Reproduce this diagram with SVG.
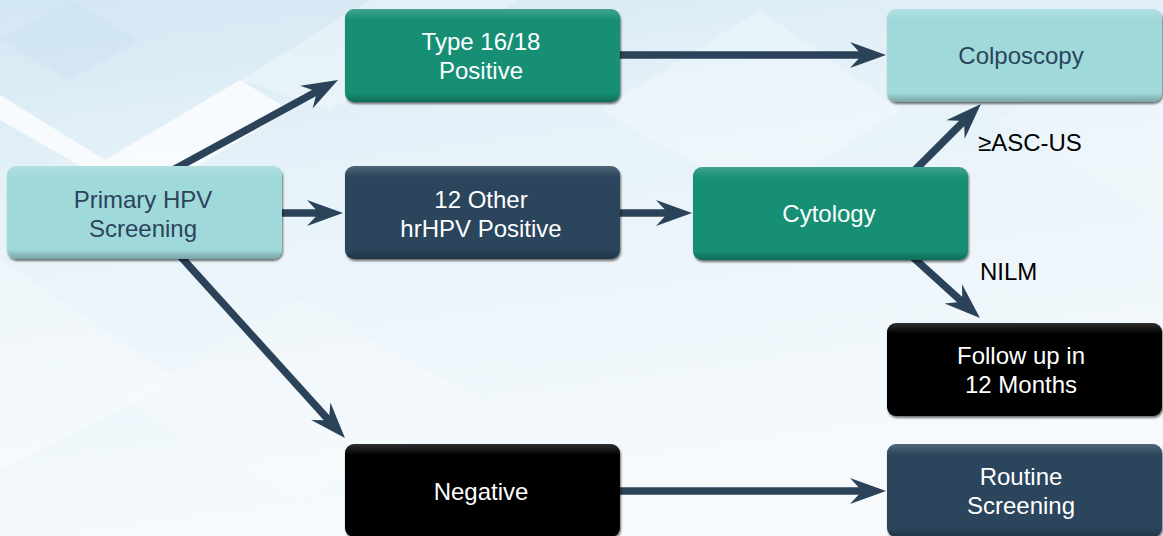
<svg xmlns="http://www.w3.org/2000/svg" width="1163" height="536" viewBox="0 0 1163 536">
<defs>
<linearGradient id="bg" x1="0" y1="0" x2="0.3" y2="1">
<stop offset="0" stop-color="#d3e7f3"/>
<stop offset="0.35" stop-color="#e6f2f9"/>
<stop offset="1" stop-color="#f6fafd"/>
</linearGradient>
<linearGradient id="shine" x1="0" y1="0" x2="0" y2="1">
<stop offset="0" stop-color="#ffffff" stop-opacity="0.18"/>
<stop offset="0.12" stop-color="#ffffff" stop-opacity="0"/>
<stop offset="0.9" stop-color="#000000" stop-opacity="0"/>
<stop offset="1" stop-color="#000000" stop-opacity="0.25"/>
</linearGradient>
<filter id="sh" x="-5%" y="-5%" width="112%" height="115%">
<feDropShadow dx="1" dy="2" stdDeviation="1.2" flood-color="#000" flood-opacity="0.55"/>
</filter>
<marker id="ah" viewBox="-16 -15 40 30" refX="0" refY="0" markerWidth="40" markerHeight="30" markerUnits="userSpaceOnUse" orient="auto">
<path d="M22,0 L-14,-13 L-2,0 L-14,13 Z" fill="#2b4359"/>
</marker>
<style>
.lt{fill:#a0d9da}
.gr{fill:#128f75}
.nv{fill:#2c445b}
.bk{fill:#000}
.tl{font-family:"Liberation Sans",Arial,Helvetica,sans-serif;font-size:24px;text-anchor:middle;fill:#2c445b}
.tw{font-family:"Liberation Sans",Arial,Helvetica,sans-serif;font-size:24px;text-anchor:middle;fill:#fff}
.lab{font-family:"Liberation Sans",Arial,Helvetica,sans-serif;font-size:24px;fill:#000}
.cn{stroke:#2b4359;stroke-width:7.5;fill:none;marker-end:url(#ah)}
</style>
</defs>
<g id="background">
<rect width="1163" height="536" fill="url(#bg)"/>
<polygon points="0,95 105,160 240,80 290,110 140,200 0,120" fill="#ffffff" opacity="0.75"/>
<polygon points="0,260 180,380 0,470" fill="#ffffff" opacity="0.25"/>
<polygon points="240,80 370,0 520,0 330,110" fill="#ffffff" opacity="0.3"/>
<polygon points="600,110 760,10 900,110 760,200" fill="#ffffff" opacity="0.25"/>
<polygon points="70,0 140,40 70,80 0,40" fill="#cfe3f0" opacity="0.6"/>
<polygon points="1000,120 1163,20 1163,220" fill="#ffffff" opacity="0.2"/>
<polygon points="300,300 480,400 300,500 120,400" fill="#ffffff" opacity="0.2"/>
</g>
<g id="connectors">
<line class="cn" x1="171" y1="171" x2="318.7" y2="90.5"/>
<line class="cn" x1="275" y1="213" x2="321" y2="213"/>
<line class="cn" x1="175.3" y1="250.6" x2="330.2" y2="421.7"/>
<line class="cn" x1="615" y1="55" x2="864" y2="55"/>
<line class="cn" x1="615" y1="213" x2="670" y2="213"/>
<line class="cn" x1="911" y1="174" x2="965.4" y2="119.6"/>
<line class="cn" x1="908.6" y1="253.3" x2="963.7" y2="303.2"/>
<line class="cn" x1="615" y1="491" x2="864" y2="491"/>
</g>
<g id="labels">
<text class="lab" x="978" y="151">≥ASC-US</text>
<text class="lab" x="980" y="280">NILM</text>
</g>
<g id="n-primary">
<rect x="7" y="166" width="275" height="93" rx="9" class="lt" filter="url(#sh)"/>
<rect x="7" y="166" width="275" height="93" rx="9" fill="url(#shine)"/>
<text class="tl" x="143" y="208">Primary HPV</text>
<text class="tl" x="143" y="237">Screening</text>
</g>
<g id="n-type1618">
<rect x="345" y="9" width="275" height="93" rx="9" class="gr" filter="url(#sh)"/>
<rect x="345" y="9" width="275" height="93" rx="9" fill="url(#shine)"/>
<text class="tw" x="481" y="50">Type 16/18</text>
<text class="tw" x="481" y="79">Positive</text>
</g>
<g id="n-other">
<rect x="345" y="166" width="275" height="93" rx="9" class="nv" filter="url(#sh)"/>
<rect x="345" y="166" width="275" height="93" rx="9" fill="url(#shine)"/>
<text class="tw" x="481" y="208">12 Other</text>
<text class="tw" x="481" y="237">hrHPV Positive</text>
</g>
<g id="n-negative">
<rect x="345" y="444" width="275" height="93" rx="9" class="bk" filter="url(#sh)"/>
<rect x="345" y="444" width="275" height="93" rx="9" fill="url(#shine)"/>
<text class="tw" x="481" y="500">Negative</text>
</g>
<g id="n-cytology">
<rect x="693" y="167" width="275" height="93" rx="9" class="gr" filter="url(#sh)"/>
<rect x="693" y="167" width="275" height="93" rx="9" fill="url(#shine)"/>
<text class="tw" x="829" y="222">Cytology</text>
</g>
<g id="n-colposcopy">
<rect x="887" y="9" width="275" height="93" rx="9" class="lt" filter="url(#sh)"/>
<rect x="887" y="9" width="275" height="93" rx="9" fill="url(#shine)"/>
<text class="tl" x="1021" y="64">Colposcopy</text>
</g>
<g id="n-followup">
<rect x="887" y="323" width="275" height="93" rx="9" class="bk" filter="url(#sh)"/>
<rect x="887" y="323" width="275" height="93" rx="9" fill="url(#shine)"/>
<text class="tw" x="1021" y="364">Follow up in</text>
<text class="tw" x="1021" y="393">12 Months</text>
</g>
<g id="n-routine">
<rect x="887" y="444" width="275" height="93" rx="9" class="nv" filter="url(#sh)"/>
<rect x="887" y="444" width="275" height="93" rx="9" fill="url(#shine)"/>
<text class="tw" x="1021" y="485">Routine</text>
<text class="tw" x="1021" y="514">Screening</text>
</g>
</svg>
